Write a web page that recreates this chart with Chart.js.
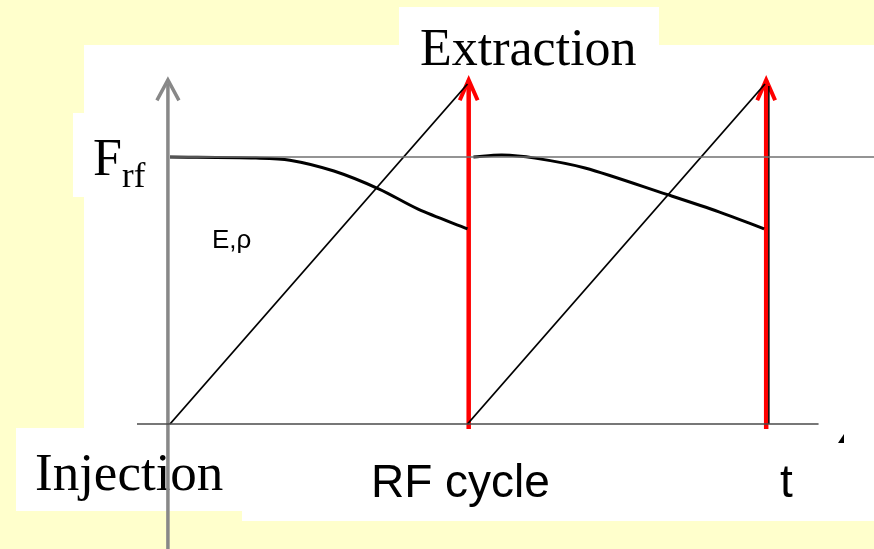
<!DOCTYPE html>
<html>
<head>
<meta charset="utf-8">
<script src="https://cdn.jsdelivr.net/npm/chart.js@4"></script>
<style>
  html, body { margin: 0; padding: 0; background: #FFFFCC; }
  canvas { display: block; }
</style>
</head>
<body>
<canvas id="rf-chart" width="874" height="549"></canvas>
<script>
// time in RF cycles, field normalised to 1 at the end of the ramp
var injectionTimes  = [0, 1];
var extractionTimes = [1, 2];
var rampTop   = 1;
var frfLevel  = 0.785;

// E,rho curve, one per cycle
var curve1X = [0, 0.289, 0.403, 0.551, 0.703, 0.834, 1.0];
var curve1Y = [0.785, 0.782, 0.776, 0.744, 0.691, 0.632, 0.574];
var curve2X = [1.02, 1.116, 1.227, 1.395, 1.667, 1.845, 1.997];
var curve2Y = [0.785, 0.791, 0.782, 0.753, 0.676, 0.624, 0.574];

var labels = {
    extraction: "Extraction",
    injection: "Injection",
    cycle: "RF cycle",
    t: "t",
    e: "E,\u03c1"
};

var pts = (xs, ys) => xs.map((x, i) => ({ x: x, y: ys[i] }));

var line = (data, color, width, extra) => Object.assign({
    data: data,
    borderColor: color,
    borderWidth: width,
    pointRadius: 0,
    showLine: true,
    fill: false
}, extra || {});

buildDatasets = () => {
    var sets = [];

    // F_rf level and the time axis
    sets.push(line([{ x: 0, y: frfLevel }, { x: 2.37, y: frfLevel }], "#707070", 1.5));
    sets.push(line([{ x: -0.111, y: 0 }, { x: 2.18, y: 0 }], "#4a4a4a", 1.5));

    // field ramps
    injectionTimes.forEach(t => {
        sets.push(line([{ x: t, y: 0 }, { x: t + 1, y: rampTop }], "#000000", 1.8));
    });

    // E,rho
    sets.push(line(pts(curve1X, curve1Y), "#000000", 3, { tension: 0.3 }));
    sets.push(line(pts(curve2X, curve2Y), "#000000", 3, { tension: 0.3 }));

    // thin black line behind second extraction
    sets.push(line([{ x: 2.013, y: 0 }, { x: 2.013, y: 0.994 }], "#000000", 1.5));

    // extraction arrows
    extractionTimes.forEach(t => {
        var x = t + 0.004;
        sets.push(line([{ x: x, y: -0.015 }, { x: x, y: 1.01 }], "#ff0000", 4.5));
        sets.push(line([{ x: x - 0.03, y: 0.952 }, { x: x, y: 1.012 }, { x: x + 0.03, y: 0.952 }], "#ff0000", 4));
    });

    // vertical axis
    var ax = -0.007;
    sets.push(line([{ x: ax, y: -0.37 }, { x: ax, y: 1.0 }], "#888888", 3.5));
    sets.push(line([{ x: ax - 0.037, y: 0.952 }, { x: ax, y: 1.012 }, { x: ax + 0.037, y: 0.952 }], "#888888", 3.5));

    return sets;
}

var backdrop = {
    id: "backdrop",
    beforeDraw: (chart) => {
        var ctx = chart.ctx;
        ctx.save();
        ctx.fillStyle = "#FFFFCC";
        ctx.fillRect(0, 0, chart.width, chart.height);
        ctx.fillStyle = "#ffffff";
        ctx.fillRect(84, 45, 790, 466);
        ctx.fillRect(242, 511, 632, 10);
        ctx.fillRect(399, 7, 260, 38);
        ctx.fillRect(73, 113, 11, 84);
        ctx.fillRect(16, 428, 226, 83);
        ctx.restore();
    },
    beforeDatasetsDraw: (chart) => {
        var ctx = chart.ctx;
        ctx.save();
        ctx.fillStyle = "#000000";
        ctx.textBaseline = "alphabetic";
        ctx.textAlign = "left";

        ctx.font = "52px 'Liberation Serif', 'Times New Roman', serif";
        ctx.fillText(labels.extraction, 420, 65);
        ctx.fillText("F", 93, 175);
        ctx.font = "35px 'Liberation Serif', 'Times New Roman', serif";
        ctx.fillText("rf", 122, 187);

        ctx.font = "53px 'Liberation Serif', 'Times New Roman', serif";
        ctx.fillText(labels.injection, 35, 490);

        ctx.font = "26px 'Liberation Sans', Arial, sans-serif";
        ctx.fillText(labels.e, 212, 248);

        ctx.font = "46px 'Liberation Sans', Arial, sans-serif";
        ctx.fillText(labels.cycle, 371, 497);
        ctx.fillText(labels.t, 780, 497);

        // small stray mark near the end of the time axis
        ctx.beginPath();
        ctx.moveTo(838, 443);
        ctx.lineTo(844, 434);
        ctx.lineTo(844, 443);
        ctx.closePath();
        ctx.fill();
        ctx.restore();
    }
};

drawRfChart = () => {
    new Chart(document.getElementById("rf-chart"), {
        type: "scatter",
        data: { datasets: buildDatasets() },
        options: {
            responsive: false,
            animation: false,
            layout: { padding: 0 },
            plugins: {
                legend: { display: false },
                tooltip: { enabled: false }
            },
            elements: { line: { borderCapStyle: "butt", borderJoinStyle: "miter" } },
            datasets: { scatter: { clip: false } },
            scales: {
                x: { type: "linear", display: false, min: -170 / 297.5, max: 704 / 297.5 },
                y: { type: "linear", display: false, min: -125 / 340, max: 424 / 340 }
            }
        },
        plugins: [backdrop]
    });
}

(function () {
    drawRfChart();
}());
</script>
</body>
</html>
